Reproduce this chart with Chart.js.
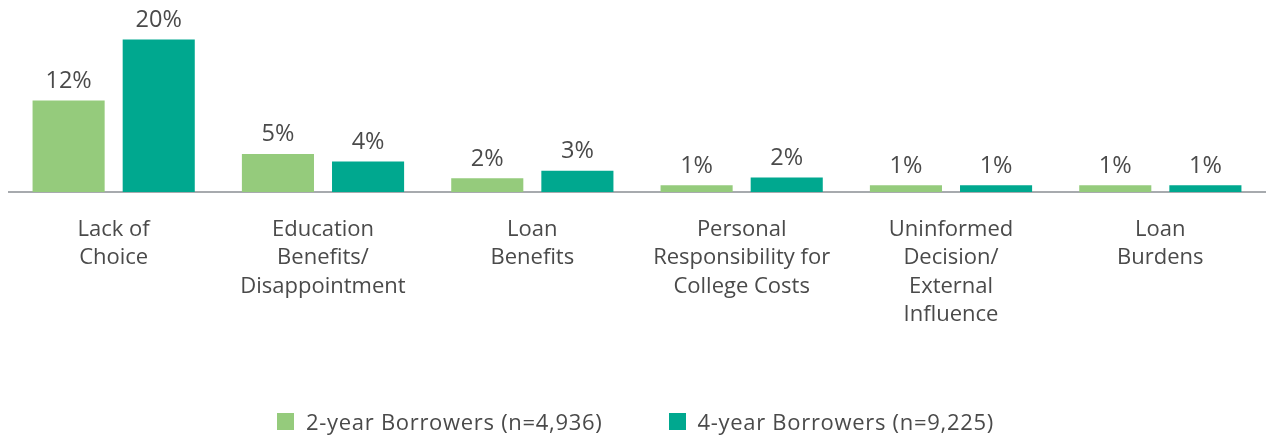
<!DOCTYPE html>
<html>
<head>
<meta charset="utf-8">
<script src="https://cdn.jsdelivr.net/npm/chart.js@4"></script>
<style>
  body { margin: 0; background: #fff; }
  #wrap { position: relative; width: 1271px; height: 438px; }
  #legend {
    position: absolute; left: 0; right: 0; top: 406px;
    display: flex; justify-content: center; gap: 66px;
    font-family: "Open Sans", sans-serif; font-size: 22px;
    letter-spacing: 0.7px; color: #4a4a4a;
  }
  #legend .item { display: flex; align-items: center; }
  #legend .box { width: 17px; height: 17px; margin-right: 12px; }
</style>
</head>
<body>
<div id="wrap">
  <canvas id="reasonsChart" width="1271" height="438"></canvas>
  <div id="legend"></div>
</div>
<script>
const categories = [
  ['Lack of', 'Choice'],
  ['Education', 'Benefits/', 'Disappointment'],
  ['Loan', 'Benefits'],
  ['Personal', 'Responsibility for', 'College Costs'],
  ['Uninformed', 'Decision/', 'External', 'Influence'],
  ['Loan', 'Burdens']
];
const twoYear = [12, 5, 1.8, 0.9, 0.9, 0.9];
const fourYear = [20, 4, 2.8, 1.9, 0.9, 0.9];
const seriesNames = ['2-year Borrowers (n=4,936)', '4-year Borrowers (n=9,225)'];
const seriesColors = ['#95cb7c', '#00a88f'];

const textColor = '#4a4a4a';
const fontFamily = '"Open Sans", sans-serif';

// value labels above each bar
const barLabels = {
  id: 'barLabels',
  afterDatasetsDraw(chart) {
    const ctx = chart.ctx;
    ctx.save();
    ctx.font = '23.5px ' + fontFamily;
    ctx.fillStyle = textColor;
    ctx.textAlign = 'center';
    ctx.textBaseline = 'alphabetic';
    chart.data.datasets.forEach((ds, i) => {
      chart.getDatasetMeta(i).data.forEach((bar, j) => {
        ctx.fillText(Math.round(ds.data[j]) + '%', bar.x, bar.y - 12.5);
      });
    });
    ctx.restore();
  }
};

const ctx = document.getElementById('reasonsChart').getContext('2d');
const chart = new Chart(ctx, {
  type: 'bar',
  data: {
    labels: categories,
    datasets: [
      { label: seriesNames[0], data: twoYear, backgroundColor: seriesColors[0] },
      { label: seriesNames[1], data: fourYear, backgroundColor: seriesColors[1] }
    ]
  },
  options: {
    responsive: false,
    animation: false,
    categoryPercentage: 0.861,
    barPercentage: 0.8,
    layout: { padding: { left: 9, right: 6, top: 0, bottom: 0 } },
    plugins: {
      legend: { display: false },
      tooltip: { enabled: false }
    },
    scales: {
      y: {
        display: false,
        min: 0,
        max: 25.2
      },
      x: {
        grid: { display: false, drawTicks: false },
        border: { display: true, color: '#a7aaae', width: 2 },
        ticks: {
          color: textColor,
          padding: 23,
          maxRotation: 0,
          autoSkip: false,
          font: { family: fontFamily, size: 22, lineHeight: 1.3 }
        },
        afterFit(scale) { scale.height = 246; }
      }
    }
  },
  plugins: [barLabels]
});

const legendEl = document.getElementById('legend');
seriesNames.forEach((name, i) => {
  const item = document.createElement('div');
  item.className = 'item';
  const box = document.createElement('span');
  box.className = 'box';
  box.style.background = seriesColors[i];
  const txt = document.createElement('span');
  txt.textContent = name;
  item.appendChild(box);
  item.appendChild(txt);
  legendEl.appendChild(item);
});
</script>
</body>
</html>
